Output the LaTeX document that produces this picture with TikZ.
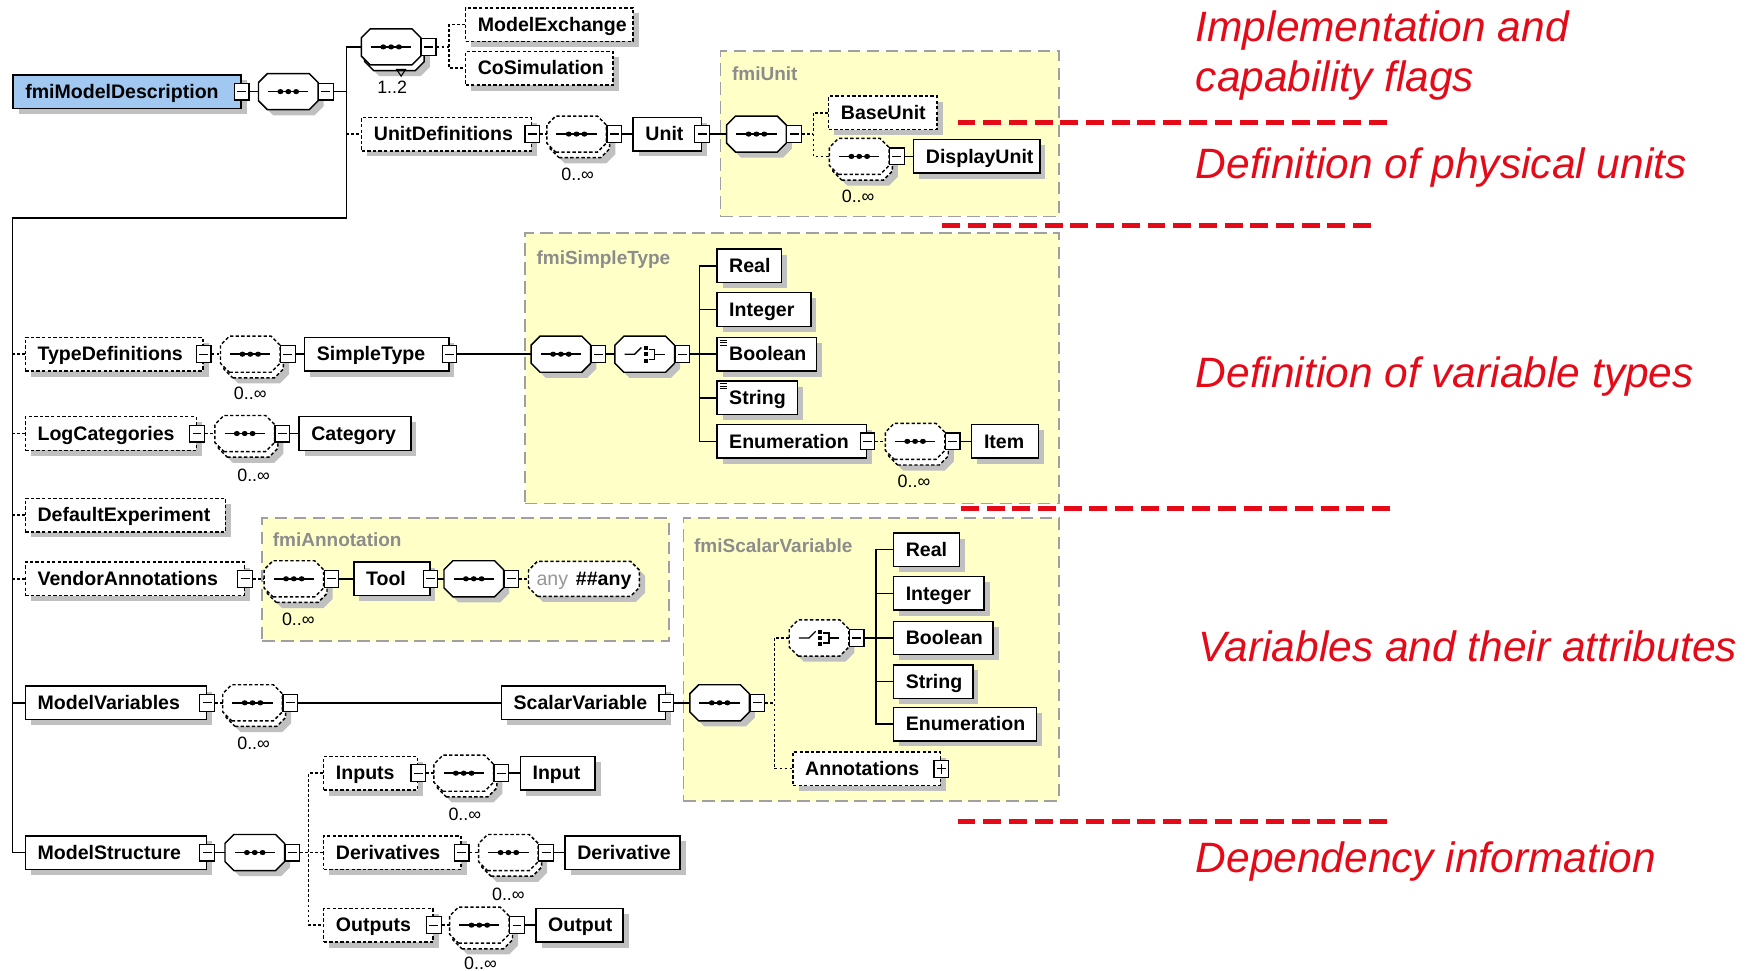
\documentclass[tikz,border=0pt]{standalone}
\usepackage{fontspec}
\setmainfont{Liberation Sans}
\usetikzlibrary{shadows}

\definecolor{shadowgray}{RGB}{192,192,192}
\definecolor{grpfill}{RGB}{255,255,200}
\definecolor{grpline}{RGB}{160,160,160}
\definecolor{grptext}{RGB}{140,140,140}
\definecolor{rootblue}{RGB}{160,200,240}
\definecolor{notered}{RGB}{228,10,24}
\definecolor{anygray}{RGB}{150,150,150}

% octagon outline used for compositors and wildcards
\makeatletter
\newdimen\octxa
\newdimen\octya
\newdimen\octxb
\newdimen\octyb
\pgfdeclareshape{octbox}{%
  \inheritsavedanchors[from=rectangle]%
  \inheritanchorborder[from=rectangle]%
  \inheritanchor[from=rectangle]{center}%
  \inheritanchor[from=rectangle]{north}%
  \inheritanchor[from=rectangle]{south}%
  \inheritanchor[from=rectangle]{east}%
  \inheritanchor[from=rectangle]{west}%
  \inheritanchor[from=rectangle]{north east}%
  \inheritanchor[from=rectangle]{north west}%
  \inheritanchor[from=rectangle]{south east}%
  \inheritanchor[from=rectangle]{south west}%
  \backgroundpath{%
    \southwest \octxa=\pgf@x \octya=\pgf@y
    \northeast \octxb=\pgf@x \octyb=\pgf@y
    \pgfpathmoveto{\pgfqpoint{\dimexpr\octxa+8pt\relax}{\octya}}%
    \pgfpathlineto{\pgfqpoint{\dimexpr\octxb-8pt\relax}{\octya}}%
    \pgfpathlineto{\pgfqpoint{\octxb}{\dimexpr\octya+8pt\relax}}%
    \pgfpathlineto{\pgfqpoint{\octxb}{\dimexpr\octyb-8pt\relax}}%
    \pgfpathlineto{\pgfqpoint{\dimexpr\octxb-8pt\relax}{\octyb}}%
    \pgfpathlineto{\pgfqpoint{\dimexpr\octxa+8pt\relax}{\octyb}}%
    \pgfpathlineto{\pgfqpoint{\octxa}{\dimexpr\octyb-8pt\relax}}%
    \pgfpathlineto{\pgfqpoint{\octxa}{\dimexpr\octya+8pt\relax}}%
    \pgfpathclose
  }%
}
\makeatother

\newcommand\boxfont{\fontsize{17.5}{20}\selectfont\bfseries}
\newcommand\grpfont{\fontsize{17}{20}\selectfont\bfseries}
\newcommand\multfont{\fontsize{16}{18}\selectfont}
\newcommand\notefont{\fontsize{38}{45}\selectfont\itshape}
\newcommand\boxtext[2]{\makebox[#1pt][l]{\hspace{11pt}#2}}

\tikzset{
  wire/.style={line width=1.3pt},
  optwire/.style={line width=1.3pt, dash pattern=on 2.5pt off 2pt},
  boxshadow/.style={drop shadow={shadow xshift=5pt, shadow yshift=-5pt, fill=shadowgray, opacity=1}},
  stackshadow/.style={drop shadow={shadow xshift=8pt, shadow yshift=-10pt, fill=shadowgray, opacity=1}},
  elem/.style={rectangle, draw, fill=white, anchor=west, inner sep=0pt, minimum height=30pt,
    text height=14pt, text depth=2pt, font=\boxfont, line width=1.3pt, boxshadow},
  optelem/.style={elem, dash pattern=on 3pt off 2pt},
  rootelem/.style={elem, fill=rootblue},
  compbase/.style={octbox, draw, fill=white, inner sep=0pt, minimum width=52pt, minimum height=31pt, line width=1.3pt},
  comp/.style={compbase, boxshadow},
  optcomp/.style={compbase, dash pattern=on 3pt off 2pt, boxshadow},
  repcomp/.style={compbase, stackshadow,
    general shadow={shadow xshift=3pt, shadow yshift=-5pt, draw=black, fill=white, line width=1.3pt}},
  optrepcomp/.style={compbase, dash pattern=on 3pt off 2pt, stackshadow,
    general shadow={shadow xshift=3pt, shadow yshift=-5pt, draw=black, fill=white, line width=1.3pt, dash pattern=on 3pt off 2pt}},
  anybox/.style={octbox, draw, fill=white, anchor=west, inner sep=0pt, minimum width=98pt, minimum height=30pt,
    dash pattern=on 3pt off 2pt, line width=1.3pt, boxshadow, font=\boxfont, text height=14pt, text depth=2pt},
  seqsym/.style={path picture={
    \draw[black, solid, line width=1.3pt] ([xshift=-18pt]path picture bounding box.center) -- ([xshift=18pt]path picture bounding box.center);
    \fill[black] ([xshift=-7pt]path picture bounding box.center) ellipse[x radius=2.7pt, y radius=2.3pt];
    \fill[black] (path picture bounding box.center) ellipse[x radius=2.7pt, y radius=2.3pt];
    \fill[black] ([xshift=7pt]path picture bounding box.center) ellipse[x radius=2.7pt, y radius=2.3pt];
  }},
  choicesym/.style={path picture={
    \draw[black, solid, line width=1.2pt] ([xshift=-18pt]path picture bounding box.center) -- ([xshift=-9pt]path picture bounding box.center) -- ([xshift=-3pt, yshift=6pt]path picture bounding box.center);
    \fill[black] ([xshift=-1pt, yshift=4pt]path picture bounding box.center) rectangle ([xshift=2.5pt, yshift=7.5pt]path picture bounding box.center);
    \fill[black] ([xshift=-1pt, yshift=-1.7pt]path picture bounding box.center) rectangle ([xshift=2.5pt, yshift=1.7pt]path picture bounding box.center);
    \fill[black] ([xshift=-1pt, yshift=-7.5pt]path picture bounding box.center) rectangle ([xshift=2.5pt, yshift=-4pt]path picture bounding box.center);
    \draw[black, solid, line width=1.2pt] ([xshift=4pt, yshift=4.5pt]path picture bounding box.center) -- ([xshift=9pt, yshift=4.5pt]path picture bounding box.center) -- ([xshift=9pt, yshift=-4.5pt]path picture bounding box.center) -- ([xshift=4pt, yshift=-4.5pt]path picture bounding box.center);
    \draw[black, solid, line width=1.2pt] ([xshift=9pt]path picture bounding box.center) -- ([xshift=18pt]path picture bounding box.center);
  }},
  btn/.style={rectangle, draw, fill=white, solid, inner sep=0pt, minimum width=13pt, minimum height=15pt, line width=1.1pt,
    path picture={\draw[black, line width=1.1pt] ([xshift=-4pt]path picture bounding box.center) -- ([xshift=4pt]path picture bounding box.center);}},
  plusbtn/.style={rectangle, draw, fill=white, solid, inner sep=0pt, minimum width=13pt, minimum height=15pt, line width=1.1pt,
    path picture={\draw[black, line width=1.1pt] ([xshift=-4pt]path picture bounding box.center) -- ([xshift=4pt]path picture bounding box.center);
      \draw[black, line width=1.1pt] ([yshift=-4.5pt]path picture bounding box.center) -- ([yshift=4.5pt]path picture bounding box.center);}},
  cbtn/.style={btn, anchor=west},
  multlabel/.style={font=\multfont, inner sep=0pt},
  grp/.style={rectangle, draw=grpline, fill=grpfill, line width=1.4pt, dash pattern=on 11pt off 6pt, inner sep=0pt, anchor=north west},
  grplabel/.style={font=\grpfont, text=grptext, anchor=west, inner sep=0pt},
  notetext/.style={font=\notefont, text=notered, anchor=base west, inner sep=0pt},
  redsep/.style={draw=notered, line width=4.5pt, dash pattern=on 16pt off 7pt},
  texticon/.style={line width=0.8pt},
}

\begin{document}
\begin{tikzpicture}[x=1pt, y=-1pt]
\fill[white] (0,0) rectangle (1568,869);
\useasboundingbox (0,0) rectangle (1568,869);

% ---------- type groups ----------
\node[grp, minimum width=303pt, minimum height=148pt] (gunit) at (644,45) {};
\node[grp, minimum width=478pt, minimum height=242pt] (gsimple) at (469,208) {};
\node[grp, minimum width=364pt, minimum height=110pt] (gann) at (234,463) {};
\node[grp, minimum width=336pt, minimum height=253pt] (gsv) at (611,463) {};
\node[grplabel] (gunitl) at (655,66) {fmiUnit};
\node[grplabel] (gsimplel) at (480,232) {fmiSimpleType};
\node[grplabel] (gannl) at (244,483) {fmiAnnotation};
\node[grplabel] (gsvl) at (621,488) {fmiScalarVariable};

% ---------- root and top level ----------
\node[optelem] (me) at (416,22) {\boxtext{150}{ModelExchange}};
\node[optelem] (cosim) at (416,61) {\boxtext{132}{CoSimulation}};
\node[rootelem] (fmd) at (11,82) {\boxtext{204}{fmiModelDescription}};
\node[btn] (fmdb) at (fmd.east) {};
\node[comp, seqsym] (cmain) at (258,82) {};
\node[cbtn] (cmainb) at (cmain.east) {};
\node[repcomp, seqsym] (ctop) at (350,42) {};
\node[cbtn] (ctopb) at (ctop.east) {};
\coordinate (ctopt) at ([xshift=9pt, yshift=-4pt]ctop.south);
\draw[line width=1pt] ([xshift=-4pt]ctopt) -- ([xshift=4pt]ctopt) -- ([yshift=-6pt]ctopt) -- cycle;
\node[multlabel] (ctopm) at (351,78) {1..2};

% ---------- units ----------
\node[optelem] (ud) at (323,120) {\boxtext{152}{UnitDefinitions}};
\node[btn] (udb) at (ud.east) {};
\node[optrepcomp, seqsym] (cud) at (516,120) {};
\node[cbtn] (cudb) at (cud.east) {};
\node[multlabel] (cudm) at (517,156) {0..∞};
\node[elem] (unit) at (566,120) {\boxtext{61}{Unit}};
\node[btn] (unitb) at (unit.east) {};
\node[comp, seqsym] (cunit) at (677,120) {};
\node[cbtn] (cunitb) at (cunit.east) {};
\node[optelem] (bu) at (741,101) {\boxtext{97}{BaseUnit}};
\node[optrepcomp, seqsym] (cdu) at (769,140) {};
\node[cbtn] (cdub) at (cdu.east) {};
\node[multlabel] (cdum) at (768,176) {0..∞};
\node[elem] (du) at (817,140) {\boxtext{113}{DisplayUnit}};

% ---------- type definitions ----------
\node[optelem] (td) at (22,317) {\boxtext{159}{TypeDefinitions}};
\node[btn] (tdb) at (td.east) {};
\node[optrepcomp, seqsym] (ctd) at (224,317) {};
\node[cbtn] (ctdb) at (ctd.east) {};
\node[multlabel] (ctdm) at (224,352) {0..∞};
\node[elem] (st) at (272,317) {\boxtext{129}{SimpleType}};
\node[btn] (stb) at (st.east) {};
\node[comp, seqsym] (cst1) at (502,317) {};
\node[cbtn] (cst1b) at (cst1.east) {};
\node[comp, choicesym] (cch1) at (577,317) {};
\node[cbtn] (cch1b) at (cch1.east) {};
\node[elem] (re1) at (641,238) {\boxtext{58}{Real}};
\node[elem] (in1) at (641,277) {\boxtext{84}{Integer}};
\node[elem] (bo1) at (641,317) {\boxtext{89}{Boolean}};
\node[elem] (str1) at (641,356) {\boxtext{72}{String}};
\node[elem] (en1) at (641,395) {\boxtext{134}{Enumeration}};
\node[btn] (en1b) at (en1.east) {};
\node[optrepcomp, seqsym] (cen) at (819,395) {};
\node[cbtn] (cenb) at (cen.east) {};
\node[multlabel] (cenm) at (818,431) {0..∞};
\node[elem] (item) at (869,395) {\boxtext{60}{Item}};
\foreach \k in {0,1,2} {
  \draw[texticon] ([xshift=3pt, yshift=-3pt-\k*2.3pt]bo1.north west) -- ++(7,0);
  \draw[texticon] ([xshift=3pt, yshift=-3pt-\k*2.3pt]str1.north west) -- ++(7,0);
}

% ---------- log categories, default experiment ----------
\node[optelem] (lc) at (22,388) {\boxtext{153}{LogCategories}};
\node[btn] (lcb) at (lc.east) {};
\node[optrepcomp, seqsym] (clc) at (219,388) {};
\node[cbtn] (clcb) at (clc.east) {};
\node[multlabel] (clcm) at (227,425) {0..∞};
\node[elem] (cat) at (267,388) {\boxtext{100}{Category}};
\node[optelem] (de) at (22,461) {\boxtext{179}{DefaultExperiment}};

% ---------- vendor annotations ----------
\node[optelem] (va) at (22,518) {\boxtext{196}{VendorAnnotations}};
\node[btn] (vab) at (va.east) {};
\node[optrepcomp, seqsym] (cva) at (263,518) {};
\node[cbtn] (cvab) at (cva.east) {};
\node[multlabel] (cvam) at (267,554) {0..∞};
\node[elem] (tool) at (316,518) {\boxtext{68}{Tool}};
\node[btn] (toolb) at (tool.east) {};
\node[comp, seqsym] (ctool) at (424,518) {};
\node[cbtn] (ctoolb) at (ctool.east) {};
\node[anybox] (anyw) at (473,518) {{\color{anygray}\mdseries any}\hspace{7pt}\#\#any};

% ---------- model variables ----------
\node[elem] (mv) at (22,629) {\boxtext{162}{ModelVariables}};
\node[btn] (mvb) at (mv.east) {};
\node[optrepcomp, seqsym] (cmv) at (226,629) {};
\node[cbtn] (cmvb) at (cmv.east) {};
\node[multlabel] (cmvm) at (227,665) {0..∞};
\node[elem] (sv) at (448,629) {\boxtext{147}{ScalarVariable}};
\node[btn] (svb) at (sv.east) {};
\node[comp, seqsym] (csv) at (644,629) {};
\node[cbtn] (csvb) at (csv.east) {};
\node[optcomp, choicesym] (cch2) at (733,571) {};
\node[cbtn] (cch2b) at (cch2.east) {};
\node[elem] (re2) at (799,492) {\boxtext{59}{Real}};
\node[elem] (in2) at (799,531) {\boxtext{81}{Integer}};
\node[elem] (bo2) at (799,571) {\boxtext{89}{Boolean}};
\node[elem] (st2) at (799,610) {\boxtext{71}{String}};
\node[elem] (en2) at (799,648) {\boxtext{128}{Enumeration}};
\node[optelem] (ann) at (709,688) {\boxtext{132}{Annotations}};
\node[plusbtn] (annb) at (ann.east) {};

% ---------- model structure ----------
\node[elem] (ms) at (22,763) {\boxtext{162}{ModelStructure}};
\node[btn] (msb) at (ms.east) {};
\node[comp, seqsym] (cms) at (228,763) {};
\node[cbtn] (cmsb) at (cms.east) {};
\node[optelem] (inp) at (289,692) {\boxtext{84}{Inputs}};
\node[btn] (inpb) at (inp.east) {};
\node[optrepcomp, seqsym] (cin) at (415,692) {};
\node[cbtn] (cinb) at (cin.east) {};
\node[multlabel] (cinm) at (416,729) {0..∞};
\node[elem] (input) at (465,692) {\boxtext{67}{Input}};
\node[optelem] (der) at (289,763) {\boxtext{123}{Derivatives}};
\node[btn] (derb) at (der.east) {};
\node[optrepcomp, seqsym] (cder) at (455,763) {};
\node[cbtn] (cderb) at (cder.east) {};
\node[multlabel] (cderm) at (455,800) {0..∞};
\node[elem] (deriv) at (505,763) {\boxtext{103}{Derivative}};
\node[optelem] (outp) at (289,828) {\boxtext{98}{Outputs}};
\node[btn] (outpb) at (outp.east) {};
\node[optrepcomp, seqsym] (cout) at (429,828) {};
\node[cbtn] (coutb) at (cout.east) {};
\node[multlabel] (coutm) at (430,862) {0..∞};
\node[elem] (output) at (479,828) {\boxtext{78}{Output}};

% ---------- junction points ----------
\coordinate (j1) at (310,82);
\coordinate (j1b) at (310,195);
\coordinate (tk) at (11,195);
\coordinate (tb) at (11,763);
\coordinate (j2) at (402,42);
\coordinate (j3) at (728,120);
\coordinate (j4) at (626,317);
\coordinate (j5) at (693,629);
\coordinate (j6) at (784,571);
\coordinate (j7) at (276,763);

% ---------- connectors ----------
\draw[wire] (fmdb.east) -- (cmain.west);
\draw[wire] (cmainb.east) -- (j1);
\draw[wire] (ctop.west) -| (j1b) -- (tk) -- (tb) -- (ms.west);
\draw[optwire] (ctopb.east) -- (j2);
\draw[optwire] (me.west) -| (j2) |- (cosim.west);

\draw[optwire] (ud.west -| j1) -- (ud.west);
\draw[optwire] (udb.east) -- (cud.west);
\draw[wire] (cudb.east) -- (unit.west);
\draw[wire] (unitb.east) -- (cunit.west);
\draw[optwire] (cunitb.east) -- (j3);
\draw[optwire] (bu.west) -| (j3) |- (cdu.west);
\draw[wire] (cdub.east) -- (du.west);

\draw[optwire] (td.west -| tk) -- (td.west);
\draw[optwire] (tdb.east) -- (ctd.west);
\draw[wire] (ctdb.east) -- (st.west);
\draw[wire] (stb.east) -- (cst1.west);
\draw[wire] (cst1b.east) -- (cch1.west);
\draw[wire] (cch1b.east) -- (bo1.west);
\draw[wire] (re1.west) -| (j4) |- (en1.west);
\draw[wire] (in1.west -| j4) -- (in1.west);
\draw[wire] (str1.west -| j4) -- (str1.west);
\draw[optwire] (en1b.east) -- (cen.west);
\draw[wire] (cenb.east) -- (item.west);

\draw[optwire] (lc.west -| tk) -- (lc.west);
\draw[optwire] (lcb.east) -- (clc.west);
\draw[wire] (clcb.east) -- (cat.west);

\draw[optwire] (de.west -| tk) -- (de.west);

\draw[optwire] (va.west -| tk) -- (va.west);
\draw[optwire] (vab.east) -- (cva.west);
\draw[wire] (cvab.east) -- (tool.west);
\draw[wire] (toolb.east) -- (ctool.west);
\draw[optwire] (ctoolb.east) -- (anyw.west);

\draw[wire] (mv.west -| tk) -- (mv.west);
\draw[optwire] (mvb.east) -- (cmv.west);
\draw[wire] (cmvb.east) -- (sv.west);
\draw[wire] (svb.east) -- (csv.west);
\draw[optwire] (csvb.east) -- (j5);
\draw[optwire] (cch2.west) -| (j5) |- (ann.west);
\draw[wire] (cch2b.east) -- (bo2.west);
\draw[wire] (re2.west) -| (j6) |- (en2.west);
\draw[wire] (in2.west -| j6) -- (in2.west);
\draw[wire] (st2.west -| j6) -- (st2.west);

\draw[wire] (msb.east) -- (cms.west);
\draw[optwire] (cmsb.east) -- (der.west);
\draw[optwire] (inp.west) -| (j7) |- (outp.west);
\draw[optwire] (inpb.east) -- (cin.west);
\draw[wire] (cinb.east) -- (input.west);
\draw[optwire] (derb.east) -- (cder.west);
\draw[wire] (cderb.east) -- (deriv.west);
\draw[optwire] (outpb.east) -- (cout.west);
\draw[wire] (coutb.east) -- (output.west);

% ---------- notes ----------
\draw[redsep] (857,110) -- (1242,110);
\draw[redsep] (843,202) -- (1228,202);
\draw[redsep] (860,455) -- (1245,455);
\draw[redsep] (857,735) -- (1242,735);
\node[notetext] (n1) at (1070,37) {Implementation and};
\node[notetext] (n2) at (1070,82) {capability flags};
\node[notetext] (n3) at (1070,160) {Definition of physical units};
\node[notetext] (n4) at (1070,347) {Definition of variable types};
\node[notetext] (n5) at (1072,592) {Variables and their attributes};
\node[notetext] (n6) at (1070,781) {Dependency information};
\end{tikzpicture}
\end{document}
